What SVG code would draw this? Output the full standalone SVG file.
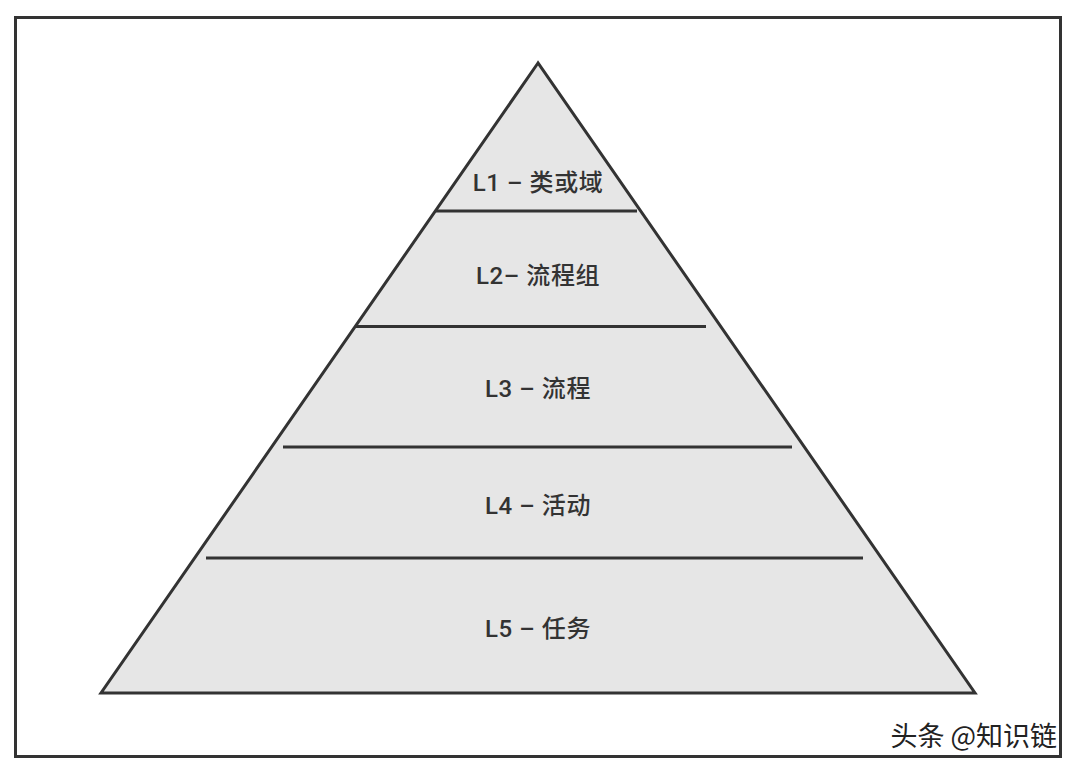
<svg xmlns="http://www.w3.org/2000/svg" width="1080" height="773" viewBox="0 0 1080 773">
<style>
.lbl{font-family:Roboto,"Noto Sans CJK SC",sans-serif;font-size:24px;font-weight:500;fill:#333;text-anchor:middle;letter-spacing:0.6px}
.div{stroke:#333;stroke-width:3;fill:none}
</style>
<rect x="0" y="0" width="1080" height="773" fill="#ffffff"/>
<rect id="frame" x="15.5" y="17.5" width="1045" height="739" fill="none" stroke="#333" stroke-width="3"/>
<g id="pyramid">
<polygon points="538,63 101,693 975,693" fill="#e6e6e6" stroke="#333" stroke-width="3" stroke-linejoin="miter"/>
</g>
<g id="connectors">
<line class="div" x1="436" y1="211" x2="637" y2="211"/>
<line class="div" x1="356" y1="326.5" x2="706" y2="326.5"/>
<line class="div" x1="283" y1="447" x2="792" y2="447"/>
<line class="div" x1="206" y1="558" x2="863" y2="558"/>
</g>
<g id="L1"><text class="lbl" x="538" y="191">L1 – 类或域</text></g>
<g id="L2"><text class="lbl" x="538" y="284">L2– 流程组</text></g>
<g id="L3"><text class="lbl" x="538" y="397">L3 – 流程</text></g>
<g id="L4"><text class="lbl" x="538" y="514">L4 – 活动</text></g>
<g id="L5"><text class="lbl" x="538" y="637">L5 – 任务</text></g>
<g id="watermark"><text x="1057" y="746" font-family="Noto Sans CJK SC,sans-serif" font-size="27" fill="#222" text-anchor="end" stroke="#fff" stroke-width="0.5" paint-order="stroke">头条 @知识链</text></g>
</svg>
